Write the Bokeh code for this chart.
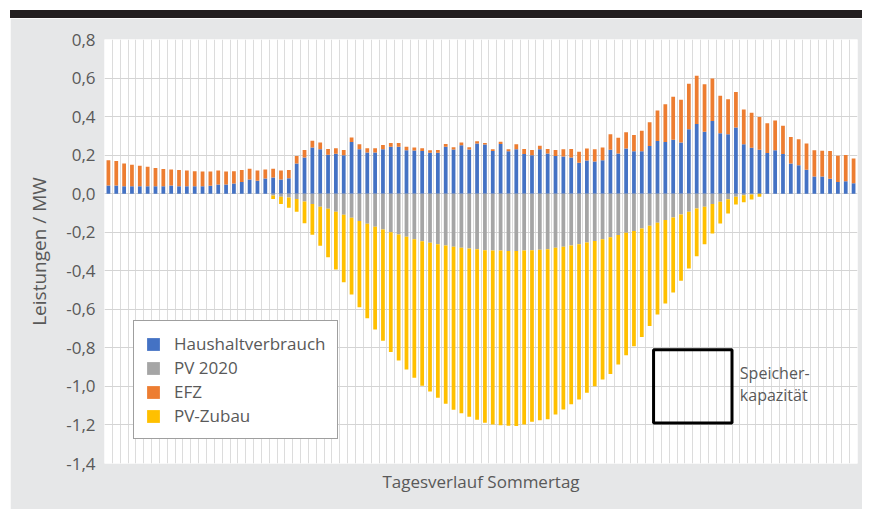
from bokeh.plotting import figure
from bokeh.models import ColumnDataSource, FixedTicker, Legend, LegendItem, Div, Range1d
from bokeh.layouts import column
from bokeh.core.properties import value
from bokeh.embed import file_html
from bokeh.resources import INLINE

# ---- data (MW per 15-minute interval, 96 intervals) ----
haushalt = [0.043, 0.043, 0.039, 0.038, 0.038, 0.039, 0.039, 0.039, 0.043, 0.039,
            0.039, 0.039, 0.039, 0.041, 0.048, 0.048, 0.053, 0.060, 0.074, 0.067,
            0.079, 0.084, 0.074, 0.080, 0.156, 0.188, 0.239, 0.231, 0.202, 0.207,
            0.200, 0.268, 0.231, 0.214, 0.214, 0.231, 0.243, 0.243, 0.226, 0.224,
            0.222, 0.212, 0.212, 0.244, 0.229, 0.251, 0.229, 0.260, 0.255, 0.222,
            0.258, 0.220, 0.230, 0.206, 0.199, 0.230, 0.208, 0.196, 0.193, 0.188,
            0.160, 0.172, 0.167, 0.174, 0.228, 0.208, 0.235, 0.220, 0.220, 0.247,
            0.273, 0.268, 0.280, 0.266, 0.334, 0.361, 0.321, 0.377, 0.314, 0.308,
            0.344, 0.257, 0.238, 0.228, 0.211, 0.226, 0.206, 0.157, 0.148, 0.124,
            0.089, 0.089, 0.078, 0.060, 0.065, 0.054]
efz = [0.131, 0.126, 0.118, 0.112, 0.107, 0.101, 0.094, 0.089, 0.083, 0.084,
       0.081, 0.077, 0.076, 0.074, 0.072, 0.067, 0.063, 0.063, 0.056, 0.053,
       0.047, 0.046, 0.046, 0.043, 0.039, 0.039, 0.036, 0.034, 0.030, 0.029,
       0.027, 0.024, 0.025, 0.022, 0.022, 0.022, 0.020, 0.020, 0.017, 0.015,
       0.014, 0.014, 0.015, 0.014, 0.012, 0.014, 0.012, 0.012, 0.008, 0.009,
       0.012, 0.011, 0.026, 0.026, 0.028, 0.019, 0.024, 0.031, 0.037, 0.044,
       0.057, 0.062, 0.063, 0.066, 0.081, 0.082, 0.084, 0.085, 0.107, 0.123,
       0.158, 0.196, 0.223, 0.222, 0.237, 0.251, 0.247, 0.221, 0.194, 0.182,
       0.184, 0.180, 0.182, 0.170, 0.155, 0.154, 0.146, 0.137, 0.135, 0.136,
       0.136, 0.134, 0.143, 0.137, 0.136, 0.128]
pv2020 = [0.0] * 21 + [
    -0.009, -0.016, -0.020, -0.028, -0.040, -0.054, -0.068, -0.078, -0.094,
    -0.109, -0.125, -0.142, -0.156, -0.171, -0.186, -0.200, -0.212, -0.224, -0.236,
    -0.247, -0.255, -0.262, -0.269, -0.276, -0.281, -0.285, -0.288, -0.293, -0.295,
    -0.295, -0.297, -0.297, -0.295, -0.293, -0.291, -0.288, -0.281, -0.276, -0.269,
    -0.262, -0.253, -0.245, -0.236, -0.226, -0.215, -0.203, -0.193, -0.181, -0.167,
    -0.151, -0.137, -0.124, -0.108, -0.094, -0.077, -0.068, -0.054, -0.042, -0.029,
    -0.016, -0.008, -0.004, 0.0] + [0.0] * 12
pv_zubau = [0.0] * 21 + [
    -0.018, -0.037, -0.053, -0.066, -0.113, -0.159, -0.202, -0.252, -0.300,
    -0.350, -0.398, -0.447, -0.490, -0.534, -0.577, -0.621, -0.654, -0.688, -0.719,
    -0.750, -0.771, -0.797, -0.821, -0.845, -0.858, -0.873, -0.885, -0.896, -0.902,
    -0.906, -0.907, -0.909, -0.903, -0.891, -0.884, -0.882, -0.865, -0.844, -0.823,
    -0.806, -0.780, -0.754, -0.728, -0.710, -0.671, -0.635, -0.598, -0.562, -0.519,
    -0.476, -0.433, -0.389, -0.344, -0.294, -0.247, -0.194, -0.153, -0.113, -0.074,
    -0.040, -0.036, -0.026, -0.016] + [0.0] * 12

series_labels = ["Haushaltverbrauch", "PV 2020", "EFZ", "PV-Zubau"]
y_ticks = [-1.4, -1.2, -1.0, -0.8, -0.6, -0.4, -0.2, 0.0, 0.2, 0.4, 0.6, 0.8]
y_tick_labels = ["-1,4", "-1,2", "-1,0", "-0,8", "-0,6", "-0,4", "-0,2",
                 "0,0", "0,2", "0,4", "0,6", "0,8"]
x_title = "Tagesverlauf Sommertag"
y_title = "Leistungen / MW"
storage_lines = ["Speicher-", "kapazität"]
# storage annotation box (interval index / MW)
storage_left, storage_right = 70.0, 80.0
storage_top, storage_bottom = -0.81, -1.19

n = len(haushalt)
FONT = "Open Sans"
TXT = "#595959"

src = ColumnDataSource(dict(x=[i + 0.5 for i in range(n)], haushalt=haushalt,
                            efz=efz, pv2020=pv2020, pv_zubau=pv_zubau))

p = figure(width=852, height=491, x_range=Range1d(0, n), y_range=Range1d(-1.4, 0.8),
           output_backend="svg", toolbar_location=None,
           min_border_left=94, min_border_right=5, min_border_top=21, min_border_bottom=46,
           background_fill_color="white", border_fill_color="#E6E7E8", margin=(0, 0, 0, 0))
p.outline_line_color = None

pos = p.vbar_stack(["haushalt", "efz"], x="x", width=0.48, source=src,
                   fill_color=["#4472C4", "#ED7D31"], line_color=None)
neg = p.vbar_stack(["pv2020", "pv_zubau"], x="x", width=0.48, source=src,
                   fill_color=["#A5A5A5", "#FFC000"], line_color=None)

p.xgrid.ticker = FixedTicker(ticks=list(range(n + 1)))
p.xgrid.grid_line_color = "#DCDCDC"
p.ygrid.ticker = FixedTicker(ticks=y_ticks)
p.ygrid.grid_line_color = "#D4D4D4"

p.xaxis.ticker = FixedTicker(ticks=[])
p.xaxis.axis_line_color = None
p.xaxis.major_tick_line_color = None
p.xaxis.minor_tick_line_color = None
p.xaxis.major_tick_out = 0
p.xaxis.axis_label = x_title
p.xaxis.axis_label_text_font = FONT
p.xaxis.axis_label_text_font_size = "17px"
p.xaxis.axis_label_text_font_style = "normal"
p.xaxis.axis_label_text_color = TXT
p.xaxis.axis_label_standoff = 6

p.yaxis.ticker = FixedTicker(ticks=y_ticks)
p.yaxis.major_label_overrides = {t: l for t, l in zip(y_ticks, y_tick_labels)}
p.yaxis.axis_line_color = None
p.yaxis.major_tick_line_color = None
p.yaxis.minor_tick_line_color = None
p.yaxis.major_tick_out = 0
p.yaxis.major_tick_in = 0
p.yaxis.major_label_standoff = 9
p.yaxis.major_label_text_font = FONT
p.yaxis.major_label_text_font_size = "17px"
p.yaxis.major_label_text_color = TXT
p.yaxis.axis_label = y_title
p.yaxis.axis_label_text_font = FONT
p.yaxis.axis_label_text_font_size = "19px"
p.yaxis.axis_label_text_font_style = "normal"
p.yaxis.axis_label_text_color = TXT
p.yaxis.axis_label_standoff = 11

legend = Legend(items=[
    LegendItem(label=series_labels[0], renderers=[pos[0]]),
    LegendItem(label=series_labels[1], renderers=[neg[0]]),
    LegendItem(label=series_labels[2], renderers=[pos[1]]),
    LegendItem(label=series_labels[3], renderers=[neg[1]]),
], location=(29, 24))
legend.glyph_width = 16
legend.glyph_height = 16
legend.label_height = 16
legend.spacing = 1
legend.padding = 11
legend.margin = 0
legend.label_standoff = 13
legend.border_line_color = "#404040"
legend.border_line_width = 1.5
legend.background_fill_color = "white"
legend.background_fill_alpha = 1
legend.label_text_font = FONT
legend.label_text_font_size = "17px"
legend.label_text_color = TXT
p.add_layout(legend)

p.quad(left=[storage_left], right=[storage_right], top=[storage_top], bottom=[storage_bottom],
       fill_color=None, line_color="black", line_width=3)
p.text(x=[storage_right + 1.0] * 2, y=[-0.932, -1.047], text=storage_lines,
       text_font=value(FONT), text_font_size="16px", text_color=TXT,
       text_baseline="middle", text_align="left")

top_bar = Div(width=852, height=8, margin=(0, 0, 0, 0),
              styles={"background-color": "#231F20"})
layout = column(top_bar, p, spacing=0, margin=(10, 0, 0, 10))

open("out.html", "w").write(file_html(layout, INLINE))
